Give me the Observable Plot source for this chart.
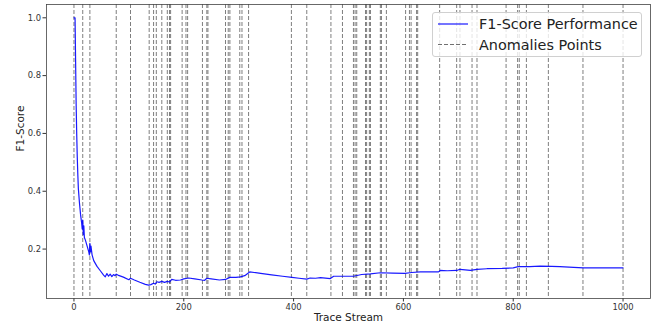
<!DOCTYPE html>
<html>
<head>
<meta charset="utf-8">
<script src="https://cdn.jsdelivr.net/npm/d3@7"></script>
<script src="https://cdn.jsdelivr.net/npm/@observablehq/plot@0.6"></script>
<style>
  body { margin: 0; background: #fff; }
  #wrap { position: relative; width: 659px; height: 327px; font-family: "DejaVu Sans", sans-serif; }
  #legend { position: absolute; left: 432px; top: 12px; width: 210px; height: 45px; border: 1px solid #d0d0d0; border-radius: 3px; background: rgba(255,255,255,0.8); box-sizing: border-box; }
  #legend svg { position: absolute; left: 0; top: 0; }
</style>
</head>
<body>
<div id="wrap"></div>
<script>
// F1-score curve
const traceX = [0, 2, 3, 4, 5, 6, 7, 8, 10, 12, 14, 15, 16, 17, 18, 19, 21, 24, 27, 28, 29, 30, 31, 33, 36, 42, 48, 54, 57, 60, 63, 66, 69, 72, 75, 77, 80, 90, 100, 103, 110, 120, 130, 136, 140, 145, 148, 151, 155, 160, 165, 170, 174, 178, 185, 194, 200, 209, 220, 233, 238, 242, 250, 265, 276, 284, 295, 303, 311, 320, 340, 360, 380, 397, 410, 424, 430, 440, 449, 467, 473, 490, 509, 524, 540, 558, 580, 603, 615, 631, 650, 664, 667, 680, 697, 703, 722, 734, 752, 780, 800, 809, 830, 849, 870, 885, 910, 928, 960, 1000];
const f1Score = [1.0, 1.0, 0.85, 0.7, 0.6, 0.52, 0.46, 0.41, 0.36, 0.32, 0.29, 0.27, 0.30, 0.25, 0.28, 0.24, 0.23, 0.21, 0.19, 0.18, 0.22, 0.19, 0.21, 0.18, 0.16, 0.14, 0.125, 0.11, 0.104, 0.115, 0.106, 0.113, 0.105, 0.112, 0.108, 0.113, 0.11, 0.103, 0.094, 0.099, 0.093, 0.085, 0.078, 0.075, 0.077, 0.082, 0.079, 0.087, 0.085, 0.088, 0.085, 0.088, 0.086, 0.095, 0.092, 0.093, 0.097, 0.1, 0.097, 0.093, 0.092, 0.099, 0.097, 0.093, 0.095, 0.102, 0.102, 0.104, 0.108, 0.121, 0.116, 0.111, 0.106, 0.102, 0.099, 0.096, 0.1, 0.099, 0.101, 0.098, 0.106, 0.106, 0.106, 0.112, 0.114, 0.118, 0.117, 0.116, 0.119, 0.121, 0.121, 0.121, 0.126, 0.125, 0.126, 0.13, 0.126, 0.13, 0.132, 0.133, 0.135, 0.139, 0.139, 0.141, 0.14, 0.139, 0.137, 0.135, 0.135, 0.135];
// anomaly positions
const anomalies = [0, 16, 29, 77, 103, 137, 145, 150, 160, 170, 174, 176, 197, 204, 207, 234, 242, 244, 276, 281, 284, 302, 306, 318, 396, 424, 468, 489, 509, 512, 515, 531, 533, 538, 540, 558, 560, 569, 604, 611, 614, 624, 626, 666, 697, 703, 725, 734, 787, 808, 811, 824, 864, 927, 1000];
const xTicks = [0, 200, 400, 600, 800, 1000];
const yTicks = [0.2, 0.4, 0.6, 0.8, 1.0];
const xLabel = "Trace Stream";
const yLabel = "F1-Score";
const legendLabels = ["F1-Score Performance", "Anomalies Points"];

const data = traceX.map((x, i) => ({x, y: f1Score[i]}));

const chart = Plot.plot({
  width: 659,
  height: 327,
  marginLeft: 46,
  marginRight: 9,
  marginTop: 4,
  marginBottom: 29,
  style: {fontFamily: "DejaVu Sans, sans-serif", fontSize: "8.4px", color: "#333", background: "white"},
  x: {domain: [-50, 1050], ticks: xTicks, tickSize: 3.5, tickPadding: 2, label: null, tickFormat: d3.format("d")},
  y: {domain: [0.029, 1.046], ticks: yTicks, tickSize: 3.5, tickPadding: 2, label: null, tickFormat: d3.format(".1f")},
  marks: [
    Plot.ruleX(anomalies, {x: d => d, stroke: "#707070", strokeOpacity: 0.9, strokeWidth: 1, strokeDasharray: "4,2"}),
    Plot.line(data, {x: "x", y: "y", stroke: "#0000ff", strokeWidth: 1.2, strokeOpacity: 0.9}),
    Plot.frame({stroke: "#444", strokeWidth: 0.8}),
    Plot.text([xLabel], {frameAnchor: "bottom", dy: 22, text: d => d, fontSize: 10.5, fill: "#222"}),
    Plot.text([yLabel], {frameAnchor: "left", dx: -25.5, rotate: -90, text: d => d, fontSize: 10.5, fill: "#222"})
  ]
});

const wrap = document.getElementById("wrap");
wrap.appendChild(chart);

const legend = document.createElement("div");
legend.id = "legend";
legend.innerHTML = `<svg width="210" height="45">
  <line x1="5" x2="35" y1="11" y2="11" stroke="#0000ff" stroke-opacity="0.9" stroke-width="1.2"/>
  <line x1="5" x2="35" y1="31.5" y2="31.5" stroke="#707070" stroke-width="1" stroke-dasharray="4,2"/>
  <text x="46" y="16" font-family="DejaVu Sans" font-size="14.4" fill="#222">${legendLabels[0]}</text>
  <text x="46" y="36.5" font-family="DejaVu Sans" font-size="14.4" fill="#222">${legendLabels[1]}</text>
</svg>`;
wrap.appendChild(legend);
</script>
</body>
</html>
